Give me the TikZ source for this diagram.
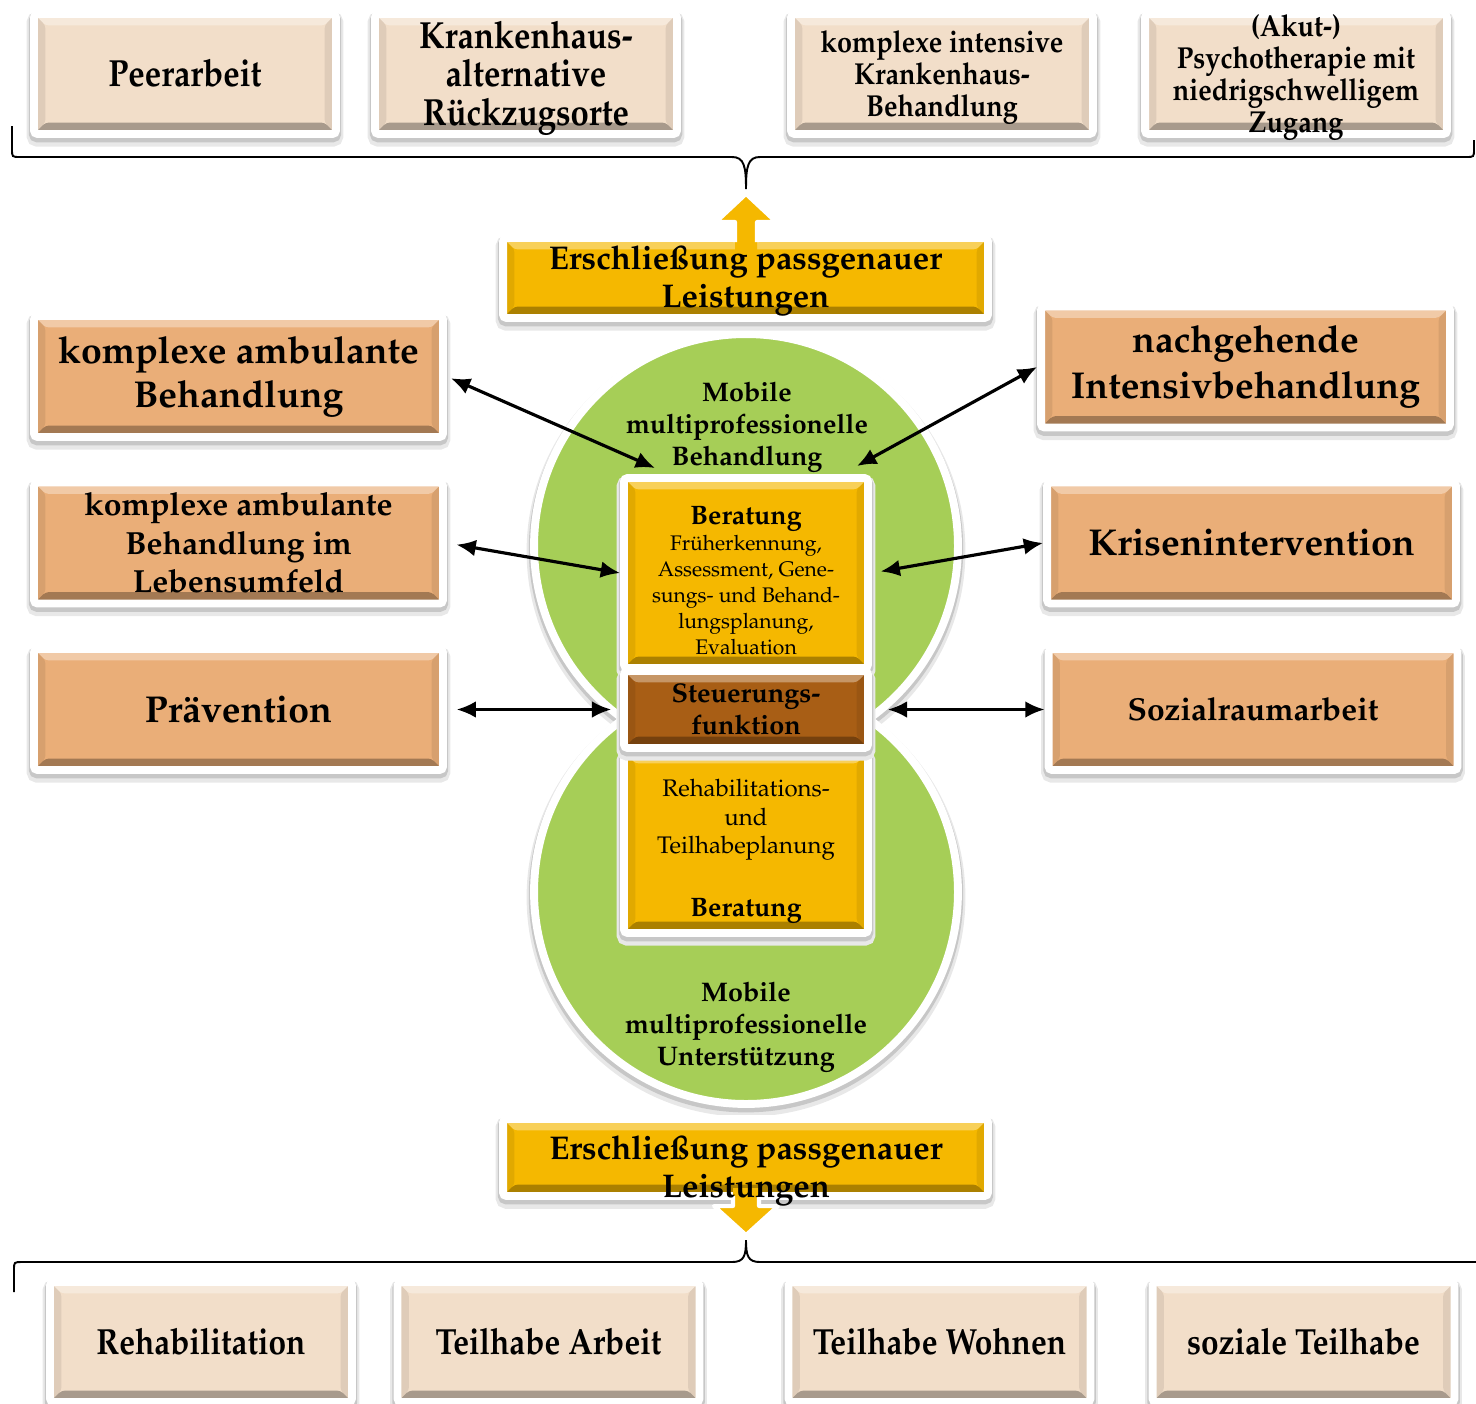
\documentclass[tikz,border=0pt]{standalone}
\usepackage[T1]{fontenc}
\usepackage{mathpazo}
\usepackage{graphicx}
\usepackage{tikz}
\usetikzlibrary{arrows.meta}

\definecolor{peach}{HTML}{F2DEC9}
\definecolor{apricot}{HTML}{EAAE78}
\definecolor{gold}{HTML}{F5B800}
\definecolor{rust}{HTML}{A85E15}
\definecolor{leaf}{HTML}{A6CE57}
\definecolor{leafdark}{HTML}{8DB83E}

\pgfdeclareradialshading{leafball}{\pgfpoint{0bp}{0bp}}{color(0bp)=(leaf);color(38bp)=(leaf);color(50bp)=(leafdark);color(52bp)=(leafdark)}

% condensed look: text stretched upwards, kept out of the box size
\newcommand{\tallstack}[2]{\smash{\raisebox{-0.44em}{\scalebox{1}[#1]{\begin{tabular}{@{}c@{}}#2\end{tabular}}}}}

\tikzset{
  bevel/.style={path picture={
    \fill[black,opacity=.3] (path picture bounding box.south west) -- (path picture bounding box.south east) -- ([shift={(-6.5pt,6.5pt)}]path picture bounding box.south east) -- ([shift={(6.5pt,6.5pt)}]path picture bounding box.south west) -- cycle;
    \fill[white,opacity=.35] (path picture bounding box.north west) -- (path picture bounding box.north east) -- ([shift={(-6.5pt,-6.5pt)}]path picture bounding box.north east) -- ([shift={(6.5pt,-6.5pt)}]path picture bounding box.north west) -- cycle;
    \fill[black,opacity=.08] (path picture bounding box.north west) -- (path picture bounding box.south west) -- ([shift={(6.5pt,6.5pt)}]path picture bounding box.south west) -- ([shift={(6.5pt,-6.5pt)}]path picture bounding box.north west) -- cycle;
    \fill[black,opacity=.08] (path picture bounding box.north east) -- (path picture bounding box.south east) -- ([shift={(-6.5pt,6.5pt)}]path picture bounding box.south east) -- ([shift={(-6.5pt,-6.5pt)}]path picture bounding box.north east) -- cycle;
  }},
  haze/.style={preaction={draw=black!9,line width=8.5pt,transform canvas={yshift=-3pt}},
    preaction={draw=black!22,line width=6pt,transform canvas={yshift=-1.8pt}}},
  card/.style={haze,draw=white,line width=4.5pt,rounded corners=2pt,inner sep=0pt,align=center,bevel},
  pale/.style={card,fill=peach,minimum width=6.04cm,minimum height=2.4cm},
  side/.style={card,fill=apricot,minimum width=8.18cm,minimum height=2.42cm},
  gain/.style={card,fill=gold,minimum width=9.7cm},
  core/.style={card,minimum width=4.88cm},
  ball/.style={circle,haze,draw=white,line width=4.5pt,minimum size=8.48cm,shade,shading=leafball},
  balltext/.style={align=center,font=\fontsize{15.3}{18.2}\selectfont\bfseries},
  link/.style={{Latex[length=11pt,width=9.5pt]}-{Latex[length=11pt,width=9.5pt]},line width=1.8pt},
  brace/.style={line width=1.1pt},
  blockedge/.style={draw=white,line width=2.3pt,line join=round},
}

\begin{document}
\begin{tikzpicture}[x=0.02cm,y=-0.02cm,>=Latex]
\useasboundingbox (0,0) rectangle (1476,1403);

% top row
\node[pale,font=\fontsize{18.7}{19}\selectfont\bfseries] (peer) at (185,74) {\tallstack{1.15}{Peerarbeit}};
\node[pale,font=\fontsize{18.7}{19}\selectfont\bfseries] (retreat) at (526,74) {\tallstack{1.15}{Krankenhaus-\\alternative\\R\"uckzugsorte}};
\node[pale,font=\fontsize{15.4}{16.2}\selectfont\bfseries] (intens) at (942,74) {\tallstack{1.12}{komplexe intensive\\Krankenhaus-\\Behandlung}};
\node[pale,font=\fontsize{15.4}{16.2}\selectfont\bfseries] (acute) at (1296,74) {\tallstack{1.12}{(Akut-)\\Psychotherapie mit\\niedrigschwelligem\\Zugang}};
\draw[brace] (12,126) -- (12,149) .. controls (12,157) .. (20,157) -- (732,157) .. controls (744,157) and (746,166) .. (746,189) .. controls (746,166) and (748,157) .. (760,157) -- (1466,157) .. controls (1474,157) .. (1474,149) -- (1474,140);

% the two circles
\node[ball] (treat) at (746,546) {};
\node[ball] (support) at (746,892) {};
\node[balltext] (treatlbl) at (747,427) {Mobile\\multiprofessionelle\\Behandlung};
\node[balltext] (supportlbl) at (746,1027) {Mobile\\multiprofessionelle\\Unterst\"utzung};

% middle column
\node[core,fill=gold,minimum height=3.8cm,font=\fontsize{12}{14.8}\selectfont] (advice) at (746,573) {{\rule{0pt}{0.67cm}\fontsize{15.2}{18}\selectfont\bfseries Beratung}\\Fr\"uherkennung,\\Assessment, Gene-\\sungs- und Behand-\\lungsplanung,\\Evaluation};
\node[core,fill=gold,minimum height=3.62cm,font=\fontsize{13.65}{16.2}\selectfont] (plan) at (746,842.5) {\rule{0pt}{0.71cm}Rehabilitations-\\und\\Teilhabeplanung\\[0.69cm]{\fontsize{15.2}{18}\selectfont\bfseries Beratung}};
\node[core,fill=rust,minimum height=1.54cm,font=\fontsize{15.4}{18.2}\selectfont\bfseries] (steer) at (746,709.5) {Steuerungs-\\funktion};

% Erschliessung oben
\node[gain,minimum height=1.6cm,font=\fontsize{18.7}{21.6}\selectfont\bfseries] (gainup) at (745.5,278) {\rule{0pt}{0.6cm}Erschlie\ss ung passgenauer\\Leistungen};
\fill[gold] (735,252) -- (735,222) -- (716,222) -- (746,194) -- (776,222) -- (757,222) -- (757,252) -- cycle;
\draw[blockedge] (735,242) -- (735,222) -- (716,222) -- (746,194) -- (776,222) -- (757,222) -- (757,242);

% Erschliessung unten
\node[gain,minimum height=1.54cm] (gaindown) at (745.5,1157.5) {};
\fill[gold] (733,1188) -- (733,1206) -- (714,1206) -- (746,1235) -- (778,1206) -- (759,1206) -- (759,1188) -- cycle;
\draw[blockedge] (733,1196) -- (733,1206) -- (714,1206) -- (746,1235) -- (778,1206) -- (759,1206) -- (759,1196);
\node[align=center,font=\fontsize{18.7}{21.6}\selectfont\bfseries] (gaindownlbl) at (746,1171) {Erschlie\ss ung passgenauer\\Leistungen};
\draw[brace] (14,1292) -- (14,1270) .. controls (14,1262) .. (22,1262) -- (732,1262) .. controls (744,1262) and (746,1256) .. (746,1240) .. controls (746,1256) and (748,1262) .. (760,1262) -- (1476,1262);

% bottom row
\node[pale,font=\fontsize{18}{19}\selectfont\bfseries] (reha) at (201,1342) {\tallstack{1.15}{Rehabilitation}};
\node[pale,font=\fontsize{18}{19}\selectfont\bfseries] (work) at (548.5,1342) {\tallstack{1.15}{Teilhabe Arbeit}};
\node[pale,font=\fontsize{18}{19}\selectfont\bfseries] (home) at (939.5,1342) {\tallstack{1.15}{Teilhabe Wohnen}};
\node[pale,font=\fontsize{18}{19}\selectfont\bfseries] (social) at (1303.5,1342) {\tallstack{1.15}{soziale Teilhabe}};

% left and right
\node[side,font=\fontsize{21.3}{25}\selectfont\bfseries] (amb) at (238.5,376.5) {komplexe ambulante\\Behandlung};
\node[side,font=\fontsize{18.2}{21.9}\selectfont\bfseries] (life) at (238.5,543) {komplexe ambulante\\Behandlung im\\Lebensumfeld};
\node[side,font=\fontsize{21.3}{25}\selectfont\bfseries] (prev) at (238.5,709.5) {Pr\"avention};
\node[side,font=\fontsize{21.3}{26.2}\selectfont\bfseries] (outreach) at (1245.5,367) {nachgehende\\Intensivbehandlung};
\node[side,font=\fontsize{21.3}{25}\selectfont\bfseries] (crisis) at (1251.5,543) {Krisenintervention};
\node[side,font=\fontsize{18.1}{21.7}\selectfont\bfseries] (space) at (1253,709.5) {Sozialraumarbeit};

% arrows
\coordinate (treatl) at (655,468);
\coordinate (treatr) at (857,466);
\draw[link,shorten <=2.5pt] (amb.east) -- (treatl);
\draw[link] (outreach.west) -- (treatr);
\draw[link,shorten <=5.5pt] (life.east) -- (advice.west);
\draw[link,shorten >=5pt] (crisis.west) -- (advice.east);
\draw[link,shorten <=5.5pt,shorten >=5pt] (prev.east) -- (steer.west);
\draw[link,shorten >=9pt] (space.west) -- (steer.east);
\end{tikzpicture}
\end{document}
